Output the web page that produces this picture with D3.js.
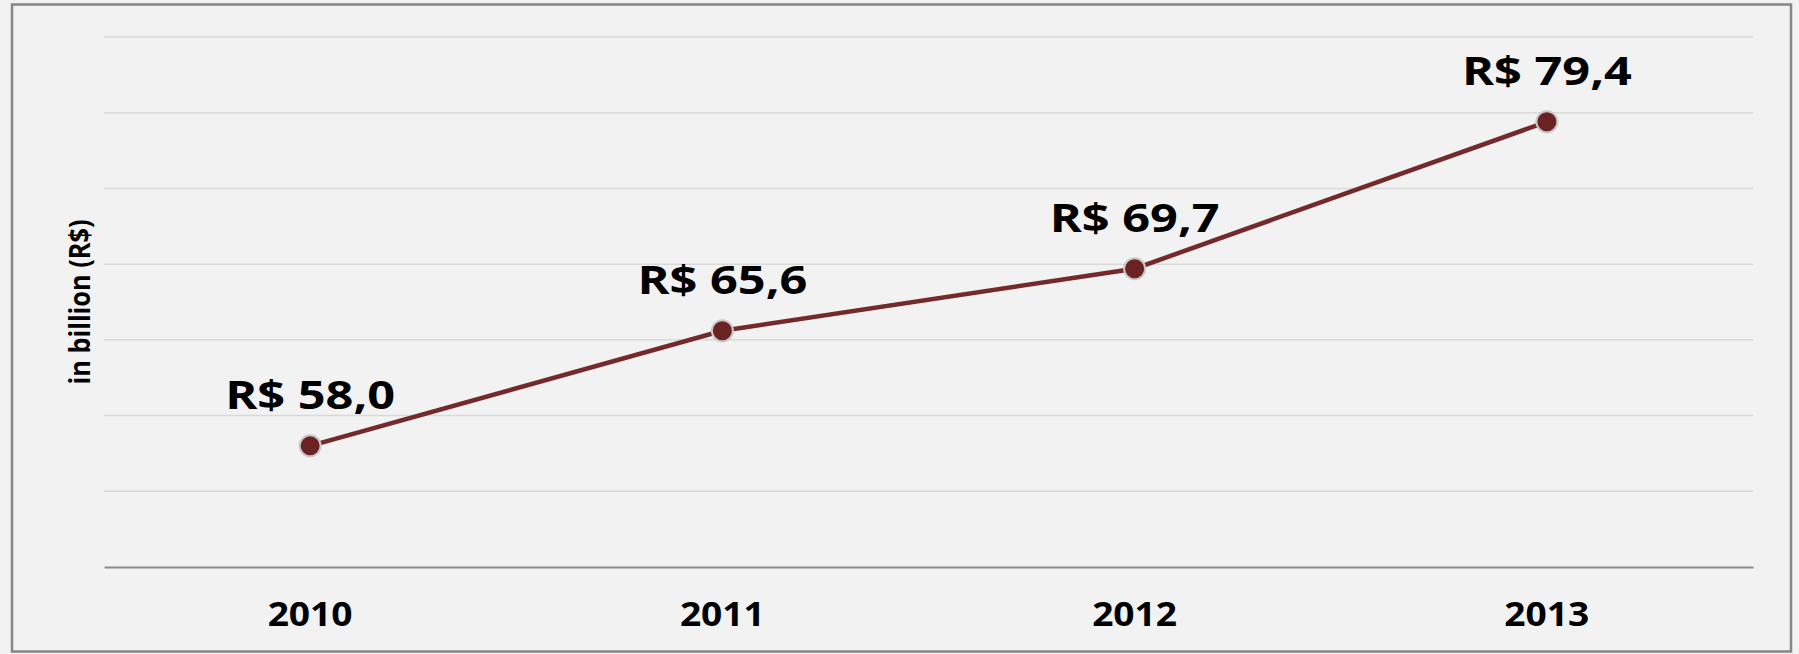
<!DOCTYPE html>
<html>
<head>
<meta charset="utf-8">
<script src="https://cdn.jsdelivr.net/npm/d3@7"></script>
<style>
  html, body { margin: 0; padding: 0; background: #f2f2f2; }
  text { font-family: "Open Sans", "DejaVu Sans", sans-serif; font-weight: bold; fill: #000; }
</style>
</head>
<body>
<script>
// data
var years = ["2010", "2011", "2012", "2013"];
var revenue = [58.0, 65.6, 69.7, 79.4];
var valueLabels = ["R$ 58,0", "R$ 65,6", "R$ 69,7", "R$ 79,4"];
var gridTicks = [50, 55, 60, 65, 70, 75, 80, 85];
var yLabel = "in billion (R$)";

var W = 1799, H = 654;
var margin = {left: 104, right: 46, top: 37, bottom: 87},
    width = W - margin.left - margin.right,
    height = H - margin.top - margin.bottom;

var svg = d3.select("body").append("svg")
    .attr("width", W)
    .attr("height", H);

// frame
svg.append("rect")
    .attr("x", 12).attr("y", 4.5)
    .attr("width", 1779).attr("height", 647)
    .attr("fill", "#f2f2f2")
    .attr("stroke", "#868686")
    .attr("stroke-width", 2.5);

var g = svg.append("g")
    .attr("transform", "translate(" + margin.left + "," + margin.top + ")");

var x = d3.scaleBand().domain(years).range([0, width]);
var y = d3.scaleLinear().domain([50, 85]).range([height, 0]);

// gridlines
g.selectAll("line.grid")
    .data(gridTicks.slice(1))
    .enter().append("line")
    .attr("class", "grid")
    .attr("x1", 0).attr("x2", width)
    .attr("y1", function(d) { return y(d); })
    .attr("y2", function(d) { return y(d); })
    .attr("stroke", "#d9d9d9")
    .attr("stroke-width", 1.5);

// x axis
var xAxis = g.append("g")
    .attr("transform", "translate(0," + height + ")")
    .call(d3.axisBottom(x).tickSize(0).tickPadding(0));
xAxis.select(".domain").attr("stroke", "#8c8c8c").attr("stroke-width", 2);
xAxis.selectAll("text")
    .attr("dy", null)
    .attr("y", 59)
    .style("font-size", "34px")
    .style("font-family", "'Open Sans', sans-serif")
    .style("font-weight", "bold")
    .attr("fill", "#000")
    .attr("textLength", 85)
    .attr("lengthAdjust", "spacingAndGlyphs");

// line
var line = d3.line()
    .x(function(d, i) { return x(years[i]) + x.bandwidth() / 2; })
    .y(function(d) { return y(d); });

g.append("path")
    .datum(revenue)
    .attr("d", line)
    .attr("fill", "none")
    .attr("stroke", "#742a2a")
    .attr("stroke-width", 4.5);

// markers
g.selectAll("circle")
    .data(revenue)
    .enter().append("circle")
    .attr("cx", function(d, i) { return x(years[i]) + x.bandwidth() / 2; })
    .attr("cy", function(d) { return y(d); })
    .attr("r", 10.5)
    .attr("fill", "#6a2222")
    .attr("stroke", "#c8c8c8")
    .attr("stroke-width", 2);

// value labels
g.selectAll("text.val")
    .data(revenue)
    .enter().append("text")
    .attr("class", "val")
    .attr("x", function(d, i) { return x(years[i]) + x.bandwidth() / 2; })
    .attr("y", function(d) { return y(d) - 37; })
    .attr("text-anchor", "middle")
    .style("font-size", "40px")
    .attr("textLength", 170)
    .attr("lengthAdjust", "spacingAndGlyphs")
    .text(function(d, i) { return valueLabels[i]; });

// y label
svg.append("text")
    .attr("transform", "translate(90,302) rotate(-90) scale(1,1.4)")
    .attr("text-anchor", "middle")
    .style("font-size", "20px")
    .attr("textLength", 165)
    .attr("lengthAdjust", "spacingAndGlyphs")
    .text(yLabel);
</script>
</body>
</html>
